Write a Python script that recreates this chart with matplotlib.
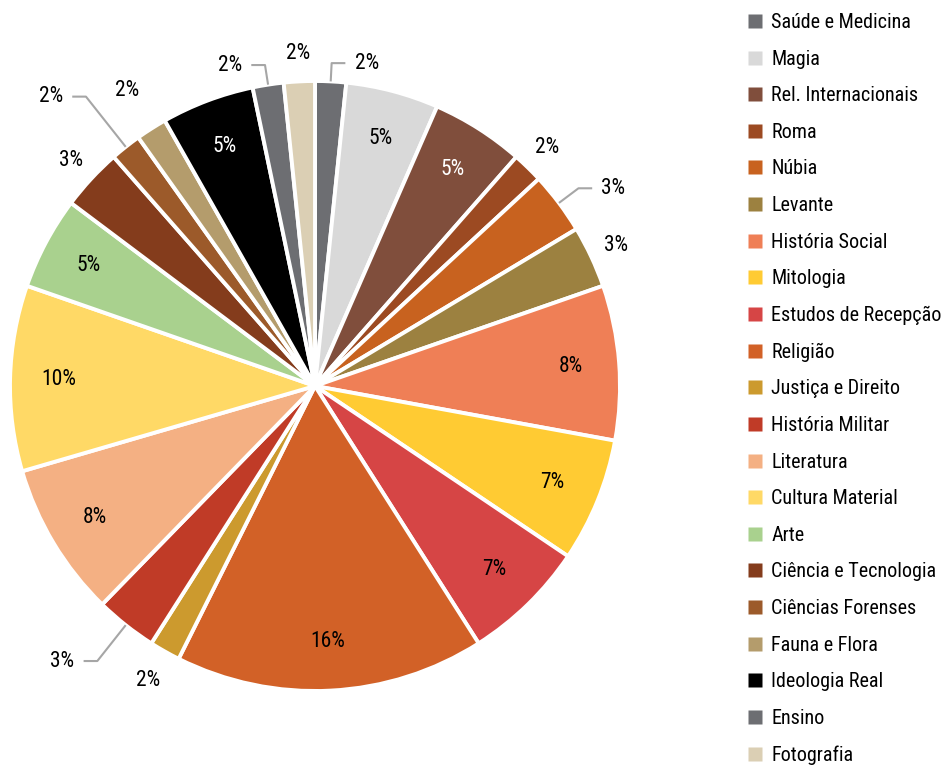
import numpy as np
import matplotlib
matplotlib.use('Agg')
import matplotlib.pyplot as plt
from matplotlib.lines import Line2D
from matplotlib.colors import to_rgb

plt.rcParams['font.family'] = ['Roboto Condensed', 'Archivo Narrow', 'Liberation Sans Narrow', 'DejaVu Sans']

# Temas e número de trabalhos (a ordem segue o gráfico, no sentido horário)
temas = ['Saúde e Medicina', 'Magia', 'Rel. Internacionais', 'Roma', 'Núbia',
         'Levante', 'História Social', 'Mitologia', 'Estudos de Recepção',
         'Religião', 'Justiça e Direito', 'História Militar', 'Literatura',
         'Cultura Material', 'Arte', 'Ciência e Tecnologia', 'Ciências Forenses',
         'Fauna e Flora', 'Ideologia Real', 'Ensino', 'Fotografia']
contagens = [1, 3, 3, 1, 2, 2, 5, 4, 4, 10, 1, 2, 5, 6, 3, 2, 1, 1, 3, 1, 1]
cores = ['#6d6e72', '#d9d9d9', '#804e3c', '#9c4a22', '#c8621f', '#9c8140',
         '#ef7f56', '#ffcb33', '#d64545', '#d26127', '#cc9a2e', '#c03b27',
         '#f4b083', '#ffd966', '#a9d18e', '#843c1c', '#9c5a2a', '#b49c6c',
         '#000000', '#6d6e72', '#dbcfb4']

# rótulos com linha de chamada: raio do cotovelo
chamadas = {'Saúde e Medicina': 1.06, 'Núbia': 1.08, 'Ensino': 1.065,
            'Ciências Forenses': 1.21, 'História Militar': 1.15}
raio_fora = {'Fauna e Flora': 1.15, 'Justiça e Direito': 1.11}

total = sum(contagens)
fig = plt.figure(figsize=(9.44, 7.65), dpi=100)
ax = fig.add_axes([10/944, 74/765, 610/944, 610/765])

wedges, _ = ax.pie(contagens, colors=cores, startangle=90, counterclock=False,
                   radius=1, wedgeprops=dict(edgecolor='white', linewidth=2.8))
ax.set_xlim(-1, 1)
ax.set_ylim(-1, 1)
ax.axis('off')

fs = 15.5
for w, tema, c, cor in zip(wedges, temas, contagens, cores):
    ang = np.deg2rad((w.theta1 + w.theta2) / 2)
    txt = f"{round(100 * c / total)}%"
    if c >= 3:
        r = 0.84
        lum = np.dot(to_rgb(cor), [0.299, 0.587, 0.114])
        ax.text(r*np.cos(ang), r*np.sin(ang), txt, ha='center', va='center',
                fontsize=fs, color='white' if lum < 0.4 else 'black')
    elif tema in chamadas:
        rc = chamadas[tema]
        x0, y0 = np.cos(ang), np.sin(ang)
        xe, ye = rc*np.cos(ang), rc*np.sin(ang)
        s = 1 if xe > 0 else -1
        xh = xe + s*0.045
        ax.plot([x0, xe, xh], [y0, ye, ye], color='#a6a6a6', lw=1.5,
                clip_on=False, solid_capstyle='butt')
        ax.text(xh + s*0.03, ye, txt, ha='left' if s > 0 else 'right',
                va='center', fontsize=fs)
    else:
        r = raio_fora.get(tema, 1.09)
        ax.text(r*np.cos(ang), r*np.sin(ang), txt, ha='center', va='center',
                fontsize=fs)

handles = [Line2D([], [], marker='s', color='none', markerfacecolor=cor,
                  markeredgecolor='none', markersize=9.4) for cor in cores]
fig.legend(handles, temas, loc='upper left', bbox_to_anchor=(747/944, 1 - 13/765),
           frameon=False, fontsize=14.5, handlelength=0.8, handletextpad=0.4,
           labelspacing=0.874, borderaxespad=0, borderpad=0)

fig.savefig('out.png', dpi=100)
